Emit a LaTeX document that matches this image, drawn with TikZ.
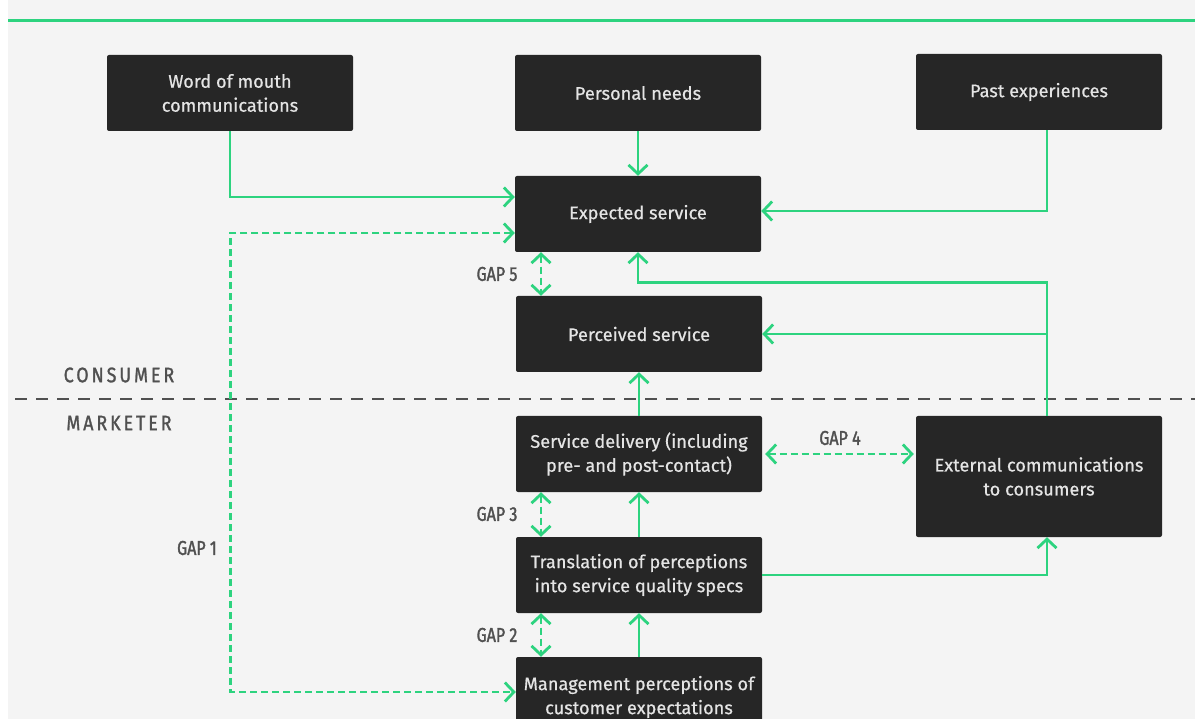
\documentclass[tikz,border=0pt]{standalone}
\usepackage{fontspec}
\setmainfont{Fira Sans}
\newfontfamily\boxfont[FakeBold=0.6]{Fira Sans}
\newfontfamily\gapfont[FakeStretch=0.8,FakeBold=1.6]{Fira Sans}
\newfontfamily\zonefont[LetterSpace=14,FakeStretch=0.85,FakeBold=1.3]{Fira Sans}
\usetikzlibrary{arrows.meta}
\definecolor{bgc}{HTML}{F4F4F4}
\definecolor{boxc}{HTML}{262626}
\definecolor{grn}{HTML}{2DD37F}
\definecolor{lblc}{HTML}{505050}
\definecolor{boxtext}{HTML}{E4E4E4}
\tikzset{
  box/.style={fill=boxc, rounded corners=2pt, minimum width=246pt, minimum height=76pt,
    text=boxtext, font=\boxfont\fontsize{18.2}{24}\selectfont, align=center, inner sep=0pt},
  tip/.tip={Straight Barb[length=9pt,width=19pt,line width=2.8pt]},
  link/.style={draw=grn, line width=2.8pt, -tip},
  gaplink/.style={draw=grn, line width=2.8pt, dash pattern=on 7pt off 4pt, tip-tip},
  gaplabel/.style={text=lblc, font=\gapfont\fontsize{20}{22}\selectfont, inner sep=0pt},
  zone/.style={text=lblc, font=\zonefont\fontsize{21}{22}\selectfont, inner sep=0pt},
  divider/.style={draw=lblc, line width=1.8pt, dash pattern=on 12pt off 9pt}
}
\begin{document}
\begin{tikzpicture}[x=1pt,y=-1pt]
  % page and background
  \useasboundingbox (0,0) rectangle (1195,719);
  \clip (0,0) rectangle (1195,719);
  \fill[white] (0,0) rectangle (1195,719);
  \fill[bgc] (8,0) rectangle (1195,719);
  \draw[grn, line width=3pt] (8,21) -- (1195,21);

  % consumer / marketer divider
  \draw[divider] (15,399) -- (1195,399);
  \node[zone] (cons) at (119,375) {CONSUMER};
  \node[zone] (mark) at (119,423) {MARKETER};

  % boxes
  \node[box] (wom)   at (230,93)  {Word of mouth\\communications};
  \node[box] (needs) at (638,93)  {Personal needs};
  \node[box] (past)  at (1039,92) {Past experiences};
  \node[box] (exp)   at (638,214) {Expected service};
  \node[box] (perc)  at (639,334) {Perceived service};
  \node[box] (deliv) at (639,454) {Service delivery (including\\pre- and post-contact)};
  \node[box, minimum height=121pt] (ext) at (1039,476.5) {External communications\\to consumers};
  \node[box] (trans) at (639,575) {Translation of perceptions\\into service quality specs};
  \node[box, minimum height=80pt] (mgmt) at (639,697) {Management perceptions of\\customer expectations};

  % consumer-side influences
  \draw[link] (wom.south) |- ([yshift=17pt]exp.west);
  \draw[link] (needs) -- (exp);
  \draw[link] ([xshift=8pt]past.south) |- ([yshift=3pt]exp.east);

  % marketer-side flow
  \draw[link] (mgmt.north) -- (trans.south);
  \draw[link] (trans.north) -- (deliv.south);
  \draw[link] (deliv.north) -- (perc.south);
  \draw[link] (trans.east) -| ([xshift=8pt]ext.south);
  \draw[link] ([xshift=8pt]ext.north) |- ([yshift=-30pt]exp.south) -- (exp.south);
  \draw[link] ([xshift=8pt]ext.north |- perc.east) -- (perc.east);

  % gaps
  \draw[gaplink] ([yshift=-19pt]exp.west) -- ++(-284,0) |- ([yshift=5pt]mgmt.west);
  \node[gaplabel] (g1) at (197,548) {GAP 1};
  \draw[gaplink] ([xshift=-97pt]exp.south) -- ([xshift=-98pt]perc.north);
  \node[gaplabel] (g5) at (497,274) {GAP 5};
  \draw[gaplink] ([xshift=-98pt]deliv.south) -- ([xshift=-98pt]trans.north);
  \node[gaplabel] (g3) at (497,514) {GAP 3};
  \draw[gaplink] ([xshift=-98pt]trans.south) -- ([xshift=-98pt]mgmt.north);
  \node[gaplabel] (g2) at (497,635) {GAP 2};
  \draw[gaplink, shorten <=3pt, shorten >=2pt] (deliv.east) -- (ext.west |- deliv.east);
  \node[gaplabel] (g4) at (840,438) {GAP 4};
\end{tikzpicture}
\end{document}
